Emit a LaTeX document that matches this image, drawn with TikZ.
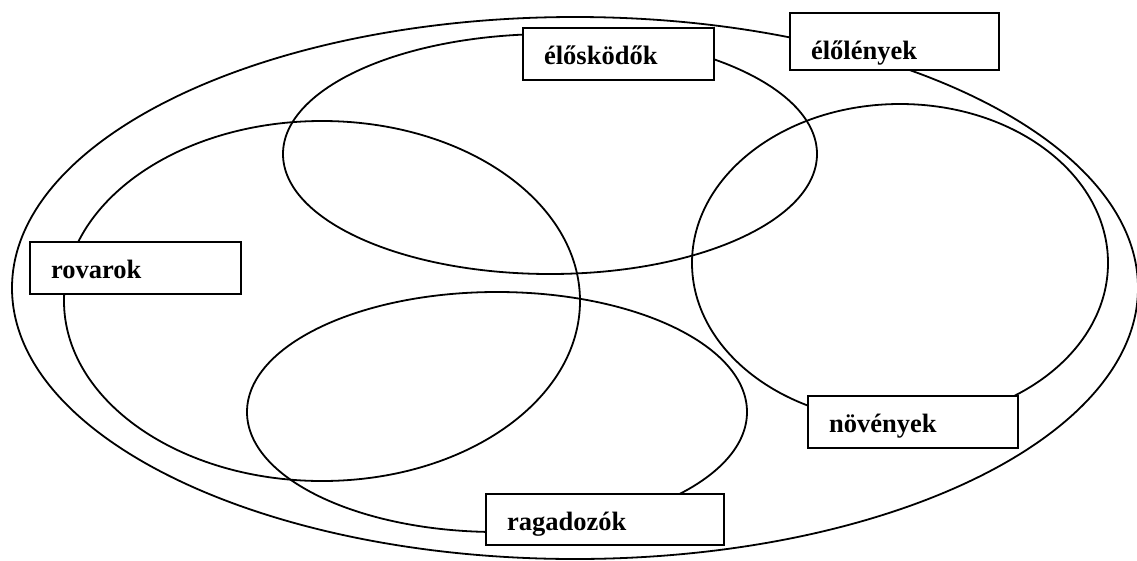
\documentclass[tikz,border=0pt]{standalone}
\usepackage{fontspec}
\setmainfont{Liberation Serif}
\usetikzlibrary{positioning}

\begin{document}
\begin{tikzpicture}[x=1pt, y=-1pt,
    halmaz/.style={line width=1.8pt},
    cimke/.style={draw, fill=white, line width=2.2pt, anchor=north west,
        inner xsep=21pt, inner ysep=0pt, align=left,
        font=\fontsize{26.5}{30}\selectfont\bfseries}]
    \useasboundingbox (0,0) rectangle (1137,560);

    % Sets
    \draw[halmaz] (575,288) ellipse [x radius=563pt, y radius=271pt];
    \draw[halmaz] (550,154) ellipse [x radius=267pt, y radius=120pt];
    \draw[halmaz] (322,301) ellipse [x radius=258pt, y radius=180pt];
    \draw[halmaz] (900,263) ellipse [x radius=208pt, y radius=159pt];
    \draw[halmaz] (497,412) ellipse [x radius=250pt, y radius=120pt];

    % Labels
    \node[cimke, text width=149pt, text height=36pt, text depth=16pt] (eloskodok) at (522,27) {élősködők};
    \node[cimke, text width=167pt, text height=46pt, text depth=11pt] (elolenyek) at (789,12) {élőlények};
    \node[cimke, text width=169pt, text height=36pt, text depth=16pt] (rovarok) at (29,241) {rovarok};
    \node[cimke, text width=168pt, text height=36pt, text depth=16pt] (novenyek) at (807,395) {növények};
    \node[cimke, text width=196pt, text height=36pt, text depth=15pt] (ragadozok) at (485,493) {ragadozók};
\end{tikzpicture}
\end{document}
